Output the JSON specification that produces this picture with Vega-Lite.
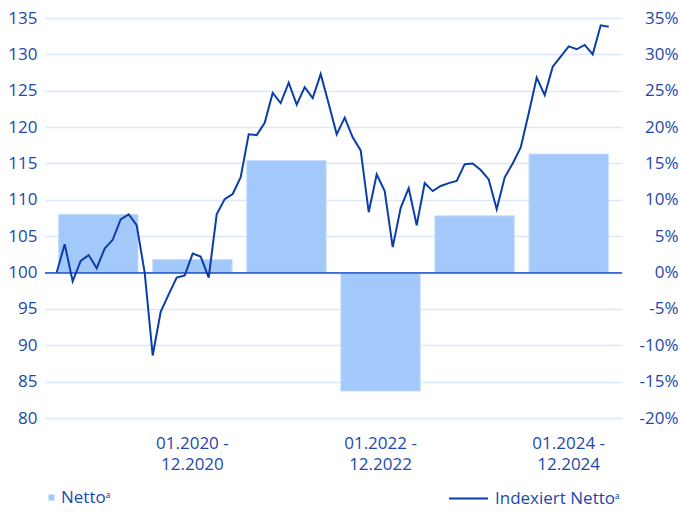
{
  "$schema": "https://vega.github.io/schema/vega-lite/v6.json",
  "width": 577,
  "height": 400,
  "autosize": {"type": "none"},
  "padding": {"left": 45, "top": 18, "right": 59, "bottom": 94},
  "background": "white",
  "config": {
    "view": {"stroke": null},
    "font": "Open Sans",
    "axis": {"labelFont": "Open Sans", "labelFontSize": 17, "labelColor": "#1c48ac", "ticks": false, "domain": false, "title": null},
    "legend": {"labelFont": "Open Sans", "labelFontSize": 17, "labelColor": "#1c48ac", "title": null}
  },
  "datasets": {
    "bars": [
      {"period": "01.2019 - 12.2019", "pct": 8.0},
      {"period": "01.2020 - 12.2020", "pct": 1.8},
      {"period": "01.2021 - 12.2021", "pct": 15.4},
      {"period": "01.2022 - 12.2022", "pct": -16.3},
      {"period": "01.2023 - 12.2023", "pct": 7.8},
      {"period": "01.2024 - 12.2024", "pct": 16.3}
    ],
    "line": [
      {"t": 0, "v": 100.0}, {"t": 1, "v": 103.9}, {"t": 2, "v": 98.8}, {"t": 3, "v": 101.6},
      {"t": 4, "v": 102.4}, {"t": 5, "v": 100.6}, {"t": 6, "v": 103.3}, {"t": 7, "v": 104.5},
      {"t": 8, "v": 107.3}, {"t": 9, "v": 108.0}, {"t": 10, "v": 106.5}, {"t": 11, "v": 100.0},
      {"t": 12, "v": 88.6}, {"t": 13, "v": 94.6}, {"t": 14, "v": 97.0}, {"t": 15, "v": 99.3},
      {"t": 16, "v": 99.6}, {"t": 17, "v": 102.6}, {"t": 18, "v": 102.2}, {"t": 19, "v": 99.3},
      {"t": 20, "v": 108.0}, {"t": 21, "v": 110.1}, {"t": 22, "v": 110.8}, {"t": 23, "v": 113.1},
      {"t": 24, "v": 119.0}, {"t": 25, "v": 118.9}, {"t": 26, "v": 120.6}, {"t": 27, "v": 124.7},
      {"t": 28, "v": 123.3}, {"t": 29, "v": 126.1}, {"t": 30, "v": 123.1}, {"t": 31, "v": 125.5},
      {"t": 32, "v": 124.0}, {"t": 33, "v": 127.3}, {"t": 34, "v": 123.2}, {"t": 35, "v": 119.0},
      {"t": 36, "v": 121.3}, {"t": 37, "v": 118.6}, {"t": 38, "v": 116.8}, {"t": 39, "v": 108.3},
      {"t": 40, "v": 113.5}, {"t": 41, "v": 111.2}, {"t": 42, "v": 103.5}, {"t": 43, "v": 108.9},
      {"t": 44, "v": 111.6}, {"t": 45, "v": 106.5}, {"t": 46, "v": 112.3}, {"t": 47, "v": 111.2},
      {"t": 48, "v": 111.9}, {"t": 49, "v": 112.3}, {"t": 50, "v": 112.6}, {"t": 51, "v": 114.9},
      {"t": 52, "v": 115.0}, {"t": 53, "v": 114.1}, {"t": 54, "v": 112.8}, {"t": 55, "v": 108.7},
      {"t": 56, "v": 113.1}, {"t": 57, "v": 115.0}, {"t": 58, "v": 117.2}, {"t": 59, "v": 121.9},
      {"t": 60, "v": 126.8}, {"t": 61, "v": 124.4}, {"t": 62, "v": 128.3}, {"t": 63, "v": 129.7},
      {"t": 64, "v": 131.1}, {"t": 65, "v": 130.7}, {"t": 66, "v": 131.3}, {"t": 67, "v": 130.0},
      {"t": 68, "v": 134.0}, {"t": 69, "v": 133.8}
    ]
  },
  "layer": [
    {
      "data": {"name": "bars"},
      "encoding": {
        "x": {
          "field": "period", "type": "nominal", "sort": null,
          "scale": {"paddingInner": 0.156, "paddingOuter": 0.145},
          "axis": {
            "orient": "bottom",
            "values": ["01.2020 - 12.2020", "01.2022 - 12.2022", "01.2024 - 12.2024"],
            "labelExpr": "[slice(datum.label, 0, 9), slice(datum.label, 10)]",
            "labelAngle": 0, "labelPadding": 17, "labelLineHeight": 21, "grid": false
          }
        },
        "y": {
          "field": "pct", "type": "quantitative",
          "scale": {"domain": [-20, 35], "nice": false, "zero": false},
          "axis": {
            "orient": "right",
            "values": [-20, -15, -10, -5, 0, 5, 10, 15, 20, 25, 30, 35],
            "labelExpr": "datum.value + '%'",
            "labelAlign": "right", "labelPadding": 56, "grid": false
          }
        }
      },
      "layer": [
        {
          "mark": {"type": "bar", "stroke": "#c9defc", "strokeWidth": 1},
          "encoding": {
            "fill": {
              "datum": "Netto\u1d43",
              "scale": {"range": ["#a3c8fa"]},
              "legend": {
                "orient": "none", "legendX": -2, "legendY": 471,
                "symbolType": "square", "symbolSize": 36, "symbolStrokeWidth": 0,
                "labelOffset": 1, "labelFontSize": 17, "labelColor": "#1c48ac", "labelFont": "Open Sans"
              }
            }
          }
        },
        {
          "mark": {"type": "rule", "color": "#3b6bd0", "strokeWidth": 1.3},
          "encoding": {"y": {"datum": 0}, "x": null}
        }
      ]
    },
    {
      "data": {"name": "line"},
      "mark": {"type": "line", "strokeWidth": 2, "strokeJoin": "miter"},
      "encoding": {
        "x": {
          "field": "t", "type": "quantitative",
          "scale": {"domain": [-1.46, 70.66], "nice": false, "zero": false},
          "axis": null
        },
        "y": {
          "field": "v", "type": "quantitative",
          "scale": {"domain": [80, 135], "nice": false, "zero": false},
          "axis": {
            "orient": "left",
            "values": [80, 85, 90, 95, 100, 105, 110, 115, 120, 125, 130, 135],
            "labelPadding": 8, "grid": true, "gridColor": "#dbe8fb", "gridWidth": 1.5
          }
        },
        "stroke": {
          "datum": "Indexiert Netto\u1d43",
          "scale": {"range": ["#0b3ea8"]},
          "legend": {
            "orient": "none", "legendX": 403, "legendY": 460,
            "symbolType": "stroke", "symbolSize": 1521, "symbolStrokeWidth": 2,
            "labelOffset": 6, "labelFontSize": 17, "labelColor": "#1c48ac", "labelFont": "Open Sans"
          }
        }
      }
    }
  ],
  "resolve": {"scale": {"x": "independent", "y": "independent"}}
}
